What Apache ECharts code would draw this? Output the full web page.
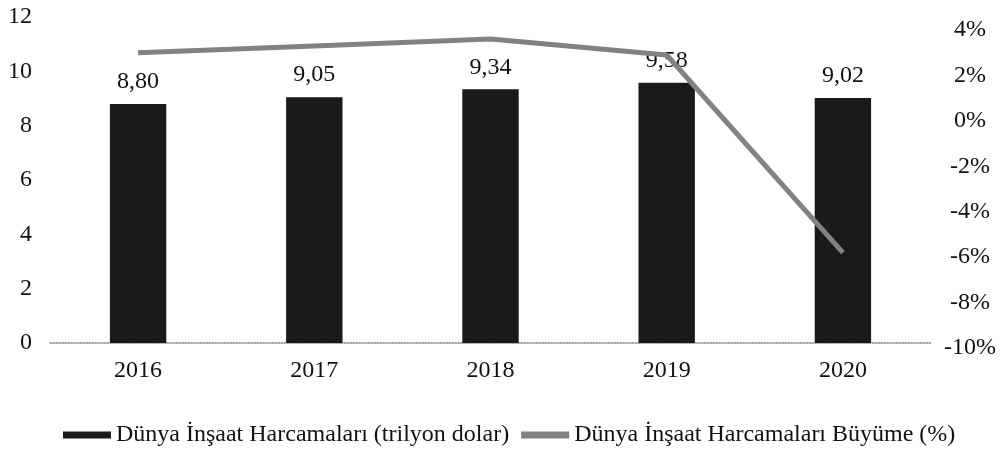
<!DOCTYPE html>
<html>
<head>
<meta charset="utf-8">
<script src="https://cdn.jsdelivr.net/npm/echarts@6/dist/echarts.min.js"></script>
<style>
  html, body { margin: 0; padding: 0; background: #fff; }
  #chart { width: 1008px; height: 453px; }
</style>
</head>
<body>
<div id="chart"></div>
<script>
// Yearly categories
const years = ['2016', '2017', '2018', '2019', '2020'];
// World construction spending, trillion dollars
const spending = [8.80, 9.05, 9.34, 9.58, 9.02];
// World construction spending growth, percent
const growth = [3.0, 3.3, 3.6, 2.9, -5.8];

const serif = '"Liberation Serif", "DejaVu Serif", serif';
const fmtComma = v => v.toFixed(2).replace('.', ',');

const chart = echarts.init(document.getElementById('chart'));
chart.setOption({
  backgroundColor: '#ffffff',
  animation: false,
  textStyle: { fontFamily: serif, color: '#111' },
  grid: [
    { left: 50, right: 77, top: 17, bottom: 110 },
    { left: 50, right: 77, top: 30, bottom: 105 }
  ],
  legend: {
    left: 58,
    top: 418,
    itemGap: 12,
    itemWidth: 48,
    itemHeight: 7,
    textStyle: { fontFamily: serif, fontSize: 24, color: '#111' },
    data: [
      { name: 'Dünya İnşaat Harcamaları (trilyon dolar)', icon: 'rect' },
      { name: 'Dünya İnşaat Harcamaları Büyüme (%)', icon: 'rect' }
    ]
  },
  xAxis: [
    {
      type: 'category',
      gridIndex: 0,
      data: years,
      axisTick: { show: false },
      axisLine: { show: true, lineStyle: { color: '#8a8a8a', type: 'dotted', width: 1.5 } },
      axisLabel: { fontFamily: serif, fontSize: 24, color: '#111', margin: 16 }
    },
    {
      type: 'category',
      gridIndex: 1,
      data: years,
      show: false
    }
  ],
  yAxis: [
    {
      type: 'value',
      gridIndex: 0,
      min: 0,
      max: 12,
      interval: 2,
      splitLine: { show: false },
      axisLine: { show: false },
      axisTick: { show: false },
      axisLabel: { fontFamily: serif, fontSize: 24, color: '#111', margin: 18, align: 'right' }
    },
    {
      type: 'value',
      gridIndex: 1,
      position: 'right',
      min: -10,
      max: 4,
      interval: 2,
      splitLine: { show: false },
      axisLine: { show: false },
      axisTick: { show: false },
      axisLabel: {
        fontFamily: serif, fontSize: 24, color: '#111', margin: 39, align: 'center',
        formatter: v => v + '%'
      }
    }
  ],
  series: [
    {
      name: 'Dünya İnşaat Harcamaları (trilyon dolar)',
      type: 'bar',
      xAxisIndex: 0,
      yAxisIndex: 0,
      data: spending,
      barWidth: '32%',
      itemStyle: { color: '#1a1a1a' },
      label: {
        show: true,
        position: 'top',
        distance: 10,
        fontFamily: serif,
        fontSize: 24,
        color: '#111',
        formatter: p => fmtComma(p.value)
      },
      z: 2
    },
    {
      name: 'Dünya İnşaat Harcamaları Büyüme (%)',
      type: 'line',
      xAxisIndex: 1,
      yAxisIndex: 1,
      data: growth,
      symbol: 'none',
      lineStyle: { color: '#828282', width: 5 },
      itemStyle: { color: '#828282' },
      z: 3
    }
  ]
});
</script>
</body>
</html>
